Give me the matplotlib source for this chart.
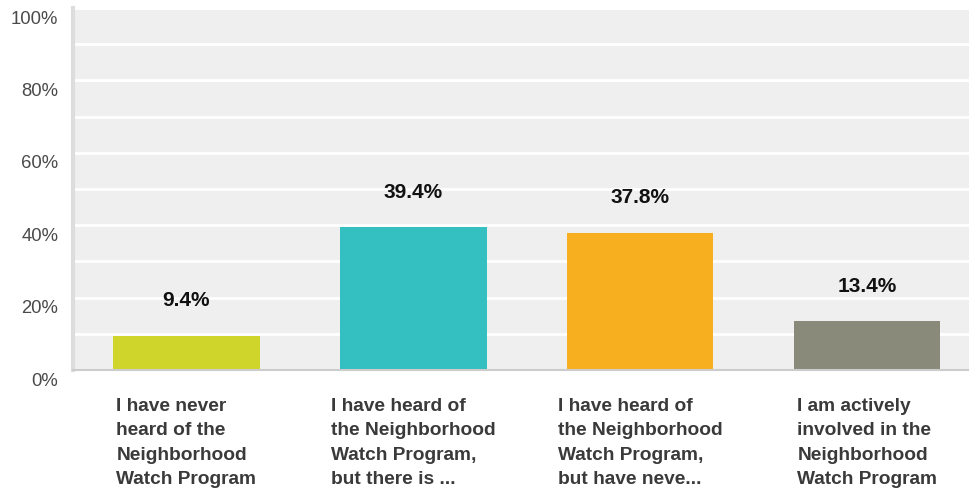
import matplotlib
matplotlib.use("Agg")
import matplotlib.pyplot as plt
import matplotlib.transforms as mtrans

categories = [
    "I have never\nheard of the\nNeighborhood\nWatch Program",
    "I have heard of\nthe Neighborhood\nWatch Program,\nbut there is ...",
    "I have heard of\nthe Neighborhood\nWatch Program,\nbut have neve...",
    "I am actively\ninvolved in the\nNeighborhood\nWatch Program",
]
values = [9.4, 39.4, 37.8, 13.4]
colors = ["#CFD52A", "#34BFC1", "#F7AF1F", "#898A7A"]
yticks = [0, 20, 40, 60, 80, 100]
ytick_labels = ["0%", "20%", "40%", "60%", "80%", "100%"]

plt.rcParams['font.family'] = ['Liberation Sans', 'DejaVu Sans']

fig = plt.figure(figsize=(9.69, 4.93), dpi=100)
ax = fig.add_axes([73/969, 1-370/493, 1-73/969, (370-8)/493])
ax.set_facecolor("#EFEFEF")

x = list(range(len(values)))
width = 0.644
ax.bar(x, values, width=width, color=colors, zorder=3)

ax.set_xlim(-0.5, 3.448)
ax.set_ylim(0, 100)
ax.set_yticks(range(0, 101, 10), minor=True)
ax.set_yticks(yticks)
ax.set_yticklabels(ytick_labels, fontsize=13.3, color="#4A4A4A")
ax.grid(axis='y', which='both', color='white', linewidth=2, zorder=1)
ax.tick_params(axis='y', which='both', length=0, pad=10.5)
ax.set_xticks([])

offset = mtrans.ScaledTranslation(0, -9/100, fig.dpi_scale_trans)
for lab in ax.get_yticklabels():
    lab.set_transform(lab.get_transform() + offset)

for s in ['top', 'right']:
    ax.spines[s].set_visible(False)
ax.spines['left'].set_color('#DDDDDD')
ax.spines['left'].set_linewidth(3)
ax.spines['bottom'].set_color('#CCCCCC')
ax.spines['bottom'].set_linewidth(1.5)
ax.spines['left'].set_zorder(4)
ax.spines['bottom'].set_zorder(4)

for xi, v in zip(x, values):
    ax.annotate(f"{v:.1f}%", (xi, v), xytext=(0, 18.5), textcoords='offset points',
                ha='center', va='bottom', fontsize=15, fontweight='bold', color='#111111')

xform = ax.get_xaxis_transform() + mtrans.ScaledTranslation(0, -28/100, fig.dpi_scale_trans)
for xi, c in zip(x, categories):
    ax.text(xi, 0, c, transform=xform, ha='center', va='top', multialignment='left',
            fontsize=13.8, fontweight='bold', color='#3A3A3A', linespacing=1.57)

fig.savefig("out.png", dpi=100)
